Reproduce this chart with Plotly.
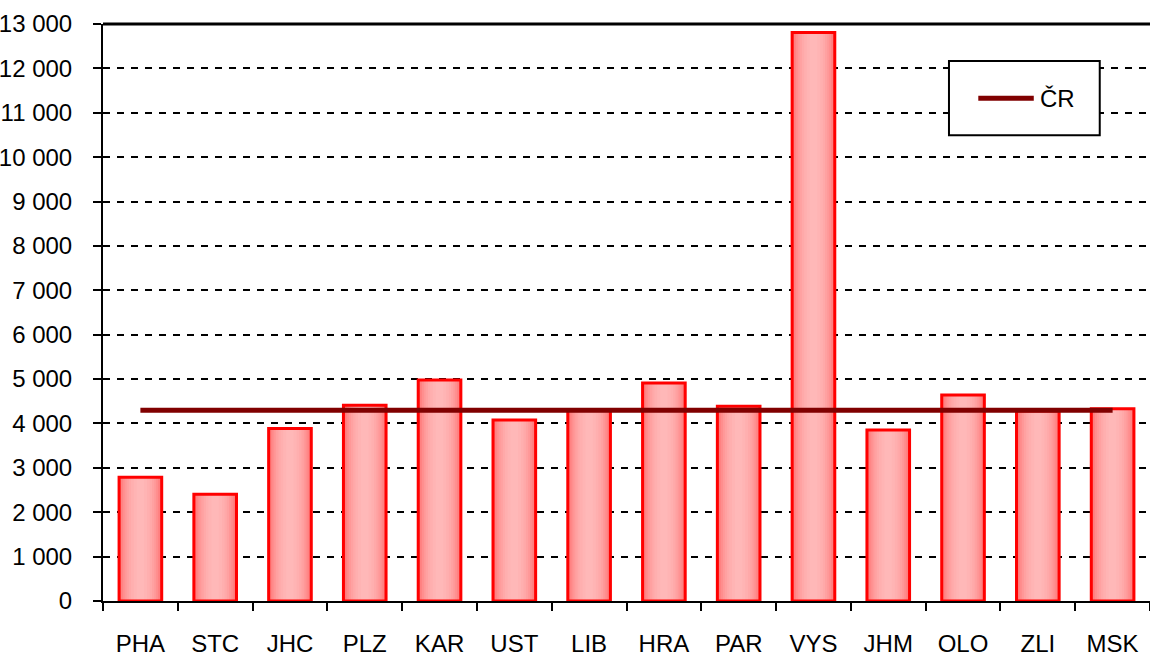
import plotly.graph_objects as go

categories = ["PHA", "STC", "JHC", "PLZ", "KAR", "UST", "LIB", "HRA", "PAR", "VYS", "JHM", "OLO", "ZLI", "MSK"]
values = [2790, 2405, 3885, 4410, 4980, 4080, 4290, 4910, 4390, 12810, 3855, 4640, 4280, 4330]
cr_value = 4300
cr_name = "ČR"
y_ticks = list(range(0, 13001, 1000))

FONT = "Liberation Sans, Arial, sans-serif"
FS = 24

fig = go.Figure()

# gradient emulation: stacked overlays of narrowing bars
layers = [
    (0.57, "#ff7474"),
    (0.52, "#ff8282"),
    (0.47, "#ff8e8e"),
    (0.42, "#ff9898"),
    (0.37, "#ffa1a1"),
    (0.31, "#ffa9a9"),
    (0.25, "#ffafaf"),
    (0.18, "#ffb4b4"),
    (0.10, "#ffb8b8"),
]
for w, c in layers:
    fig.add_trace(go.Bar(
        x=categories, y=values, width=w,
        marker=dict(color=c, line=dict(width=0)),
        showlegend=False, hoverinfo="skip",
    ))
# outline
fig.add_trace(go.Bar(
    x=categories, y=values, width=0.57,
    marker=dict(color="rgba(0,0,0,0)", line=dict(color="#ff0000", width=3)),
    showlegend=False,
))

fig.add_trace(go.Scatter(
    x=categories, y=[cr_value] * len(categories),
    mode="lines", name=cr_name,
    line=dict(color="#800000", width=5),
    showlegend=False,
))

fig.update_layout(
    width=1150, height=657,
    margin=dict(l=103, r=0, t=24, b=56),
    paper_bgcolor="white", plot_bgcolor="white",
    barmode="overlay",
    separators=", ",
    font=dict(family=FONT, size=FS, color="black"),
    showlegend=False,
)

fig.update_xaxes(
    type="category", automargin=False,
    showline=True, linecolor="black", linewidth=2,
    ticks="outside", tickson="boundaries", ticklen=8, tickwidth=2, tickcolor="black",
    ticklabelstandoff=20,
    showgrid=False,
    tickfont=dict(family=FONT, size=FS),
)
fig.update_yaxes(
    range=[0, 13000], automargin=False,
    tickvals=y_ticks, tickformat=",d",
    showline=True, linecolor="black", linewidth=2,
    ticks="outside", ticklen=8, tickwidth=2, tickcolor="black",
    ticklabelstandoff=16,
    showgrid=True, gridcolor="black", gridwidth=2, griddash="7px,7px",
    zeroline=False,
    tickfont=dict(family=FONT, size=FS),
)

# top border of plot area
fig.add_shape(type="line", xref="paper", yref="paper", x0=0, x1=1, y0=1, y1=1,
              line=dict(color="black", width=3))

# legend box
fig.add_shape(type="rect", xref="paper", yref="paper",
              x0=0.808, x1=0.952, y0=0.807, y1=0.936,
              line=dict(color="black", width=2), fillcolor="white", layer="above")
fig.add_shape(type="line", xref="paper", yref="paper",
              x0=0.836, x1=0.889, y0=0.8715, y1=0.8715,
              line=dict(color="#800000", width=5), layer="above")
fig.add_annotation(xref="paper", yref="paper", x=0.893, y=0.8715,
                   text=cr_name, showarrow=False, xanchor="left", yanchor="middle",
                   font=dict(family=FONT, size=FS, color="black"))

fig.write_html("out.html", config={"displayModeBar": False},
               post_script="document.body.style.margin='0';document.body.style.overflow='hidden';")
